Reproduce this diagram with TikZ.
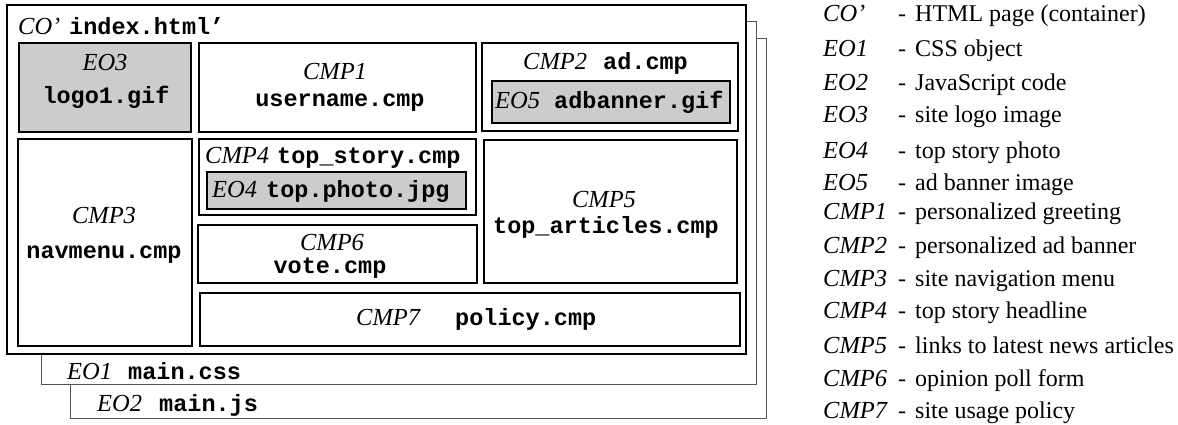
\documentclass[tikz,border=0pt]{standalone}
\usepackage{fontspec}
\setmainfont{Liberation Serif}
\setmonofont{Liberation Mono}
\definecolor{objgray}{HTML}{CCCCCC}
\definecolor{pageline}{HTML}{555555}
\begin{document}
\begin{tikzpicture}[x=1pt,y=-1pt,
  page/.style={draw=pageline,line width=1pt,fill=white},
  frame/.style={draw=black,line width=2.4pt,fill=white},
  cbox/.style={draw=black,line width=2pt,fill=white},
  obox/.style={draw=black,line width=2pt,fill=objgray},
  it/.style={font=\fontsize{24.5}{28}\selectfont\itshape,inner sep=0pt},
  fn/.style={font=\fontsize{23.5}{28}\selectfont\ttfamily\bfseries,inner sep=0pt},
  rm/.style={font=\fontsize{24}{28}\selectfont,inner sep=0pt},
  bw/.style={anchor=base west},
  bc/.style={anchor=base}]
\useasboundingbox (0,0) rectangle (1178,425);
% pages behind
\draw[page] (70,39) rectangle (766,418);
\draw[page] (41,22) rectangle (756,384);
\draw[frame] (7,5) rectangle (746,354);
% boxes
\draw[obox] (19,43) rectangle (191,132);
\draw[cbox] (199,43) rectangle (476,132);
\draw[cbox] (482,43) rectangle (738,131);
\draw[obox] (492,81) rectangle (730,123);
\draw[cbox] (18,139) rectangle (192,346);
\draw[cbox] (199,139) rectangle (476,215);
\draw[obox] (207,172) rectangle (466,209);
\draw[cbox] (484,140) rectangle (737,283);
\draw[cbox] (198,225) rectangle (477,283);
\draw[cbox] (200,293) rectangle (740,346);
% texts
\node[it,bw] (co) at (18,35) {CO’};
\node[fn,bw] (coF) at (69,35) {index.html’};
\node[it,bc] (eo3) at (105,71) {EO3};
\node[fn,bc] (eo3F) at (106,104) {logo1.gif};
\node[it,bc] (cmp1) at (335,80) {CMP1};
\node[fn,bc] (cmp1F) at (340,107) {username.cmp};
\node[it,bw] (cmp2) at (523,70) {CMP2};
\node[fn,bw] (cmp2F) at (603,70) {ad.cmp};
\node[it,bw] (eo5) at (495,109) {EO5};
\node[fn,bw] (eo5F) at (554,109) {adbanner.gif};
\node[it,bw] (cmp4) at (205,164) {CMP4};
\node[fn,bw] (cmp4F) at (277,164) {top\_story.cmp};
\node[it,bw] (eo4) at (212,197) {EO4};
\node[fn,bw] (eo4F) at (266,197) {top.photo.jpg};
\node[it,bc] (cmp3) at (104,223) {CMP3};
\node[fn,bc] (cmp3F) at (104,258) {navmenu.cmp};
\node[it,bc] (cmp5) at (604,207) {CMP5};
\node[fn,bc] (cmp5F) at (606,233) {top\_articles.cmp};
\node[it,bc] (cmp6) at (332,250) {CMP6};
\node[fn,bc] (cmp6F) at (330,273) {vote.cmp};
\node[it,bw] (cmp7) at (356,325) {CMP7};
\node[fn,bw] (cmp7F) at (455,325) {policy.cmp};
\node[it,bw] (eo1) at (67,379) {EO1};
\node[fn,bw] (eo1F) at (128,379) {main.css};
\node[it,bw] (eo2) at (97,411) {EO2};
\node[fn,bw] (eo2F) at (159,411) {main.js};
% legend
\foreach \n/\y/\k/\d in {
  a/22/CO’/HTML page (container),
  b/57/EO1/CSS object,
  c/91/EO2/JavaScript code,
  d/123/EO3/site logo image,
  e/159/EO4/top story photo,
  f/190/EO5/ad banner image,
  g/219/CMP1/personalized greeting,
  h/253/CMP2/personalized ad banner,
  i/286/CMP3/site navigation menu,
  j/318/CMP4/top story headline,
  k/353/CMP5/links to latest news articles,
  l/386/CMP6/opinion poll form,
  m/418/CMP7/site usage policy}{
  \node[it,bw] (lk\n) at (823,\y) {\k};
  \node[rm,bw] (ld\n) at (898,\y) {-};
  \node[rm,bw] (lt\n) at (915,\y) {\d};
}
\end{tikzpicture}
\end{document}
